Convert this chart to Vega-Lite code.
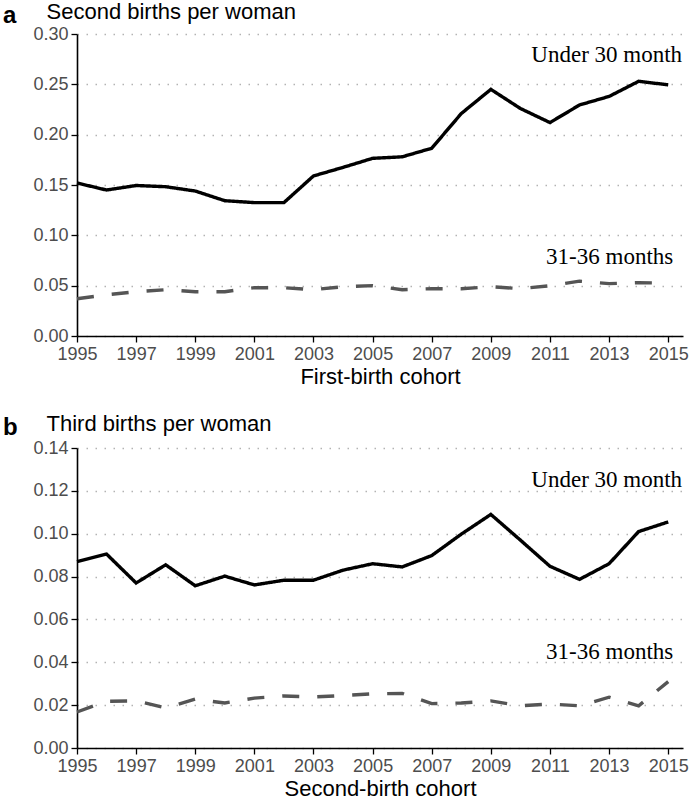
{
  "$schema": "https://vega.github.io/schema/vega-lite/v6.json",
  "padding": {"left": 3, "top": 0, "right": 4, "bottom": 2},
  "background": "white",
  "config": {
    "view": {"stroke": null},
    "font": "Liberation Sans",
    "axis": {
      "labelFont": "Liberation Sans", "labelFontSize": 18, "labelColor": "#4d4d4d",
      "domainColor": "black", "domainWidth": 1.6, "tickColor": "black", "tickWidth": 1.3, "tickSize": 6,
      "titleFont": "Liberation Sans", "titleFontWeight": "normal", "titleColor": "black", "titleFontSize": 22,
      "labelPadding": 3
    },
    "axisY": {"grid": true, "gridDash": [1.5, 7.5], "gridColor": "#b3b3b3", "gridWidth": 1.5},
    "axisX": {"grid": false, "labelFlush": false, "labelOverlap": false, "labelPadding": 3},
    "concat": {"spacing": 25},
    "title": {"font": "Liberation Sans", "fontSize": 24, "fontWeight": "bold", "color": "black", "anchor": "start", "frame": "group"}
  },
  "datasets": {
    "second": [
      {"year": 1995, "value": 0.152, "group": "Under 30 month"},
      {"year": 1996, "value": 0.145, "group": "Under 30 month"},
      {"year": 1997, "value": 0.1495, "group": "Under 30 month"},
      {"year": 1998, "value": 0.1483, "group": "Under 30 month"},
      {"year": 1999, "value": 0.144, "group": "Under 30 month"},
      {"year": 2000, "value": 0.1344, "group": "Under 30 month"},
      {"year": 2001, "value": 0.1325, "group": "Under 30 month"},
      {"year": 2002, "value": 0.1325, "group": "Under 30 month"},
      {"year": 2003, "value": 0.159, "group": "Under 30 month"},
      {"year": 2004, "value": 0.1675, "group": "Under 30 month"},
      {"year": 2005, "value": 0.1765, "group": "Under 30 month"},
      {"year": 2006, "value": 0.178, "group": "Under 30 month"},
      {"year": 2007, "value": 0.1865, "group": "Under 30 month"},
      {"year": 2008, "value": 0.221, "group": "Under 30 month"},
      {"year": 2009, "value": 0.245, "group": "Under 30 month"},
      {"year": 2010, "value": 0.226, "group": "Under 30 month"},
      {"year": 2011, "value": 0.212, "group": "Under 30 month"},
      {"year": 2012, "value": 0.2295, "group": "Under 30 month"},
      {"year": 2013, "value": 0.238, "group": "Under 30 month"},
      {"year": 2014, "value": 0.253, "group": "Under 30 month"},
      {"year": 2015, "value": 0.2495, "group": "Under 30 month"},
      {"year": 1995, "value": 0.037, "group": "31-36 months"},
      {"year": 1996, "value": 0.041, "group": "31-36 months"},
      {"year": 1997, "value": 0.044, "group": "31-36 months"},
      {"year": 1998, "value": 0.046, "group": "31-36 months"},
      {"year": 1999, "value": 0.044, "group": "31-36 months"},
      {"year": 2000, "value": 0.044, "group": "31-36 months"},
      {"year": 2001, "value": 0.048, "group": "31-36 months"},
      {"year": 2002, "value": 0.048, "group": "31-36 months"},
      {"year": 2003, "value": 0.046, "group": "31-36 months"},
      {"year": 2004, "value": 0.049, "group": "31-36 months"},
      {"year": 2005, "value": 0.050, "group": "31-36 months"},
      {"year": 2006, "value": 0.046, "group": "31-36 months"},
      {"year": 2007, "value": 0.047, "group": "31-36 months"},
      {"year": 2008, "value": 0.047, "group": "31-36 months"},
      {"year": 2009, "value": 0.049, "group": "31-36 months"},
      {"year": 2010, "value": 0.047, "group": "31-36 months"},
      {"year": 2011, "value": 0.050, "group": "31-36 months"},
      {"year": 2012, "value": 0.0545, "group": "31-36 months"},
      {"year": 2013, "value": 0.052, "group": "31-36 months"},
      {"year": 2014, "value": 0.053, "group": "31-36 months"},
      {"year": 2015, "value": 0.0525, "group": "31-36 months"}
    ],
    "third": [
      {"year": 1995, "value": 0.087, "group": "Under 30 month"},
      {"year": 1996, "value": 0.0905, "group": "Under 30 month"},
      {"year": 1997, "value": 0.077, "group": "Under 30 month"},
      {"year": 1998, "value": 0.0855, "group": "Under 30 month"},
      {"year": 1999, "value": 0.0757, "group": "Under 30 month"},
      {"year": 2000, "value": 0.0802, "group": "Under 30 month"},
      {"year": 2001, "value": 0.0761, "group": "Under 30 month"},
      {"year": 2002, "value": 0.0783, "group": "Under 30 month"},
      {"year": 2003, "value": 0.0783, "group": "Under 30 month"},
      {"year": 2004, "value": 0.083, "group": "Under 30 month"},
      {"year": 2005, "value": 0.086, "group": "Under 30 month"},
      {"year": 2006, "value": 0.0845, "group": "Under 30 month"},
      {"year": 2007, "value": 0.0898, "group": "Under 30 month"},
      {"year": 2008, "value": 0.0998, "group": "Under 30 month"},
      {"year": 2009, "value": 0.109, "group": "Under 30 month"},
      {"year": 2010, "value": 0.097, "group": "Under 30 month"},
      {"year": 2011, "value": 0.0848, "group": "Under 30 month"},
      {"year": 2012, "value": 0.0787, "group": "Under 30 month"},
      {"year": 2013, "value": 0.086, "group": "Under 30 month"},
      {"year": 2014, "value": 0.101, "group": "Under 30 month"},
      {"year": 2015, "value": 0.1055, "group": "Under 30 month"},
      {"year": 1995, "value": 0.0168, "group": "31-36 months"},
      {"year": 1996, "value": 0.0218, "group": "31-36 months"},
      {"year": 1997, "value": 0.022, "group": "31-36 months"},
      {"year": 1998, "value": 0.0187, "group": "31-36 months"},
      {"year": 1999, "value": 0.0228, "group": "31-36 months"},
      {"year": 2000, "value": 0.021, "group": "31-36 months"},
      {"year": 2001, "value": 0.0233, "group": "31-36 months"},
      {"year": 2002, "value": 0.0243, "group": "31-36 months"},
      {"year": 2003, "value": 0.0238, "group": "31-36 months"},
      {"year": 2004, "value": 0.0245, "group": "31-36 months"},
      {"year": 2005, "value": 0.0253, "group": "31-36 months"},
      {"year": 2006, "value": 0.0255, "group": "31-36 months"},
      {"year": 2007, "value": 0.0207, "group": "31-36 months"},
      {"year": 2008, "value": 0.021, "group": "31-36 months"},
      {"year": 2009, "value": 0.022, "group": "31-36 months"},
      {"year": 2010, "value": 0.0197, "group": "31-36 months"},
      {"year": 2011, "value": 0.0205, "group": "31-36 months"},
      {"year": 2012, "value": 0.0197, "group": "31-36 months"},
      {"year": 2013, "value": 0.0237, "group": "31-36 months"},
      {"year": 2014, "value": 0.0197, "group": "31-36 months"},
      {"year": 2015, "value": 0.031, "group": "31-36 months"}
    ],
    "labelsA": [
      {"year": 2015.47, "value": 0.279, "label": "Under 30 month"},
      {"year": 2015.17, "value": 0.0788, "label": "31-36 months"}
    ],
    "labelsB": [
      {"year": 2015.47, "value": 0.125, "label": "Under 30 month"},
      {"year": 2015.17, "value": 0.045, "label": "31-36 months"}
    ]
  },
  "vconcat": [
    {
      "width": 606, "height": 302,
      "title": {"text": "a", "dx": -74, "dy": 32},
      "layer": [
        {
          "data": {"name": "second"},
          "mark": {"type": "line", "strokeWidth": 3.4, "strokeCap": "butt"},
          "encoding": {
            "x": {"field": "year", "type": "quantitative", "scale": {"domain": [1995, 2015.5], "nice": false, "zero": false},
                  "axis": {"values": [1995, 1997, 1999, 2001, 2003, 2005, 2007, 2009, 2011, 2013, 2015], "format": "d", "title": "First-birth cohort", "titlePadding": 3}},
            "y": {"field": "value", "type": "quantitative", "scale": {"domain": [0, 0.3], "nice": false},
                  "axis": {"values": [0, 0.05, 0.1, 0.15, 0.2, 0.25, 0.3], "format": ".2f", "title": "Second births per woman",
                           "titleAngle": 0, "titleAlign": "left", "titleBaseline": "alphabetic", "titleX": -31, "titleY": -16, "titleFontSize": 22}},
            "color": {"field": "group", "type": "nominal", "scale": {"domain": ["Under 30 month", "31-36 months"], "range": ["black", "#555555"]}, "legend": null},
            "strokeDash": {"field": "group", "type": "nominal", "scale": {"domain": ["Under 30 month", "31-36 months"], "range": [[1, 0], [17, 18]]}, "legend": null}
          }
        },
        {
          "data": {"name": "labelsA"},
          "mark": {"type": "text", "font": "Liberation Serif", "fontSize": 23, "align": "right", "baseline": "middle", "color": "black"},
          "encoding": {
            "x": {"field": "year", "type": "quantitative"},
            "y": {"field": "value", "type": "quantitative"},
            "text": {"field": "label"}
          }
        }
      ]
    },
    {
      "width": 606, "height": 300,
      "title": {"text": "b", "dx": -74, "dy": 32},
      "layer": [
        {
          "data": {"name": "third"},
          "mark": {"type": "line", "strokeWidth": 3.4, "strokeCap": "butt"},
          "encoding": {
            "x": {"field": "year", "type": "quantitative", "scale": {"domain": [1995, 2015.5], "nice": false, "zero": false},
                  "axis": {"values": [1995, 1997, 1999, 2001, 2003, 2005, 2007, 2009, 2011, 2013, 2015], "format": "d", "title": "Second-birth cohort", "titlePadding": 3}},
            "y": {"field": "value", "type": "quantitative", "scale": {"domain": [0, 0.14], "nice": false},
                  "axis": {"values": [0, 0.02, 0.04, 0.06, 0.08, 0.1, 0.12, 0.14], "format": ".2f", "title": "Third births per woman",
                           "titleAngle": 0, "titleAlign": "left", "titleBaseline": "alphabetic", "titleX": -31, "titleY": -18, "titleFontSize": 22}},
            "color": {"field": "group", "type": "nominal", "scale": {"domain": ["Under 30 month", "31-36 months"], "range": ["black", "#555555"]}, "legend": null},
            "strokeDash": {"field": "group", "type": "nominal", "scale": {"domain": ["Under 30 month", "31-36 months"], "range": [[1, 0], [17, 18]]}, "legend": null}
          }
        },
        {
          "data": {"name": "labelsB"},
          "mark": {"type": "text", "font": "Liberation Serif", "fontSize": 23, "align": "right", "baseline": "middle", "color": "black"},
          "encoding": {
            "x": {"field": "year", "type": "quantitative"},
            "y": {"field": "value", "type": "quantitative"},
            "text": {"field": "label"}
          }
        }
      ]
    }
  ]
}
